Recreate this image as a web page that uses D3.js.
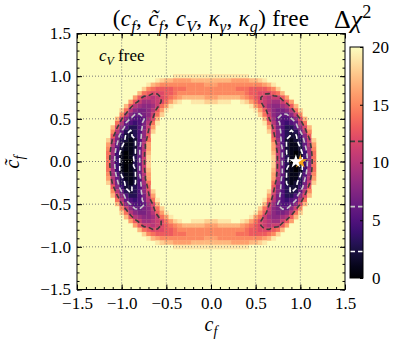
<!DOCTYPE html>
<html>
<head>
<meta charset="utf-8">
<script src="https://cdn.jsdelivr.net/npm/d3@7"></script>
<style>
  body { margin: 0; background: #fff; }
</style>
</head>
<body>
<div id="chart"></div>
<script>
// delta chi^2, one char per cell:
// "0".."9","a".."k" stand for 0..20, "." is above 20 (left empty)
const cfStart = -1.25;   // c_f of the first column
const ctStart = 1.05;    // c~_f of the first row
const cellStep = 0.05;

const chiRows = [
	"...................................................",
	"...............kkjjjjjjjjjjjjjjjjjkk...............",
	".............jihhgggghhhhhhhhhgggghhij.............",
	"...........jhgffffffffffgggffffffffffghj...........",
	"..........ifeddddeeefffffffffffeeeddddefi..........",
	"........khedcccddefffffffffffffffeddcccdehk........",
	".......kgdbbabcdefghhhhhggghhhhhgfedcbabbdgk.......",
	".......gdb99abcegijkkjjjiiijjjkkjigecba99bdg.......",
	"......hda9889begj.................jgeb9889adh......",
	".....iea8778adgj...................jgda8778aei.....",
	"....kfb86678bei.....................ieb87668bfk....",
	"....hc865569ch.......................hc965568ch....",
	"...kea65457aej.......................jea75456aek...",
	"...hc853357bg.........................gb753358ch...",
	"...fa632358ci.........................ic853236af...",
	"..kd8422358dk.........................kd8532248dk..",
	"..ib7321259e...........................e9521237bi..",
	"..ga631125ag...........................ga521136ag..",
	"..f9521126ag...........................ga6211259f..",
	"..e9410126bh...........................hb6210149e..",
	"..e8410136bi...........................ib6310148e..",
	"..e8410036bi...........................ib6300148e..",
	"..e8410136bi...........................ib6310148e..",
	"..e9410126bh...........................hb6210149e..",
	"..f9521126ag...........................ga6211259f..",
	"..ga631125ag...........................ga521136ag..",
	"..ib7321259e...........................e9521237bi..",
	"..kd8422358dk.........................kd8532248dk..",
	"...fa632358ci.........................ic853236af...",
	"...hc853357bg.........................gb753358ch...",
	"...kea65457aej.......................jea75456aek...",
	"....hc865569ch.......................hc965568ch....",
	"....kfb86678bei.....................ieb87668bfk....",
	".....iea8778adgj...................jgda8778aei.....",
	"......hda9889begj.................jgeb9889adh......",
	".......gdb99abcegijkkjjjiiijjjkkjigecba99bdg.......",
	".......kgdbbabcdefghhhhhggghhhhhgfedcbabbdgk.......",
	"........khedcccddefffffffffffffffeddcccdehk........",
	"..........ifeddddeeefffffffffffeeeddddefi..........",
	"...........jhgffffffffffgggffffffffffghj...........",
	".............jihhgggghhhhhhhhhgggghhij.............",
	"...............kkjjjjjjjjjjjjjjjjjkk...............",
	"..................................................."
];

const levels = [2.3, 6.18, 11.83];
const levelColors = ["#ffffff", "#c8c8c8", "#3c3c3c"];
const axisTicks = [-1.5, -1.0, -0.5, 0.0, 0.5, 1.0, 1.5];
const gridTicks = [-1.0, -0.5, 0.0, 0.5, 1.0];
const cbarTicks = [0, 5, 10, 15, 20];
const bestFit = [0.95, 0.0];
const smPoint = [1.0, 0.0];

const FONT = "'Liberation Serif', serif";
const symbols = "0123456789abcdefghijk";
const nx = chiRows[0].length;
const ny = chiRows.length;

const cells = [];
const field = [];
chiRows.forEach((row, j) => {
	[...row].forEach((c, i) => {
		const v = symbols.indexOf(c);
		if (v >= 0) cells.push({ cf: cfStart + i * cellStep, ct: ctStart - j * cellStep, v: v });
		// negated so that the contours close round the low regions
		field.push(v >= 0 ? -v : -25);
	});
});

const svg = d3.select("#chart")
	.append("svg")
	.attr("width", 400)
	.attr("height", 345)
	.attr("font-family", FONT);

const x = d3.scaleLinear().domain([-1.5, 1.5]).range([77, 345]);
const y = d3.scaleLinear().domain([-1.5, 1.5]).range([289.5, 33.5]);
const color = d3.scaleSequential(d3.interpolateMagma).domain([0, 20]).clamp(true);

svg.append("rect")
	.attr("x", x(-1.5))
	.attr("y", y(1.5))
	.attr("width", x(1.5) - x(-1.5))
	.attr("height", y(-1.5) - y(1.5))
	.attr("fill", color(20));

const cw = x(cellStep) - x(0);
const ch = y(0) - y(cellStep);

svg.append("g")
	.selectAll("rect")
	.data(cells)
	.join("rect")
	.attr("x", (d) => x(d.cf) - cw / 2)
	.attr("y", (d) => y(d.ct) - ch / 2)
	.attr("width", cw + 0.3)
	.attr("height", ch + 0.3)
	.attr("fill", (d) => color(d.v));

// dotted grid
const grid = svg.append("g")
	.attr("stroke", "#777")
	.attr("stroke-width", 1)
	.attr("stroke-dasharray", "1,2");
grid.selectAll(".gx")
	.data(gridTicks)
	.join("line")
	.attr("class", "gx")
	.attr("x1", (d) => x(d)).attr("x2", (d) => x(d))
	.attr("y1", y(1.5)).attr("y2", y(-1.5));
grid.selectAll(".gy")
	.data(gridTicks)
	.join("line")
	.attr("class", "gy")
	.attr("y1", (d) => y(d)).attr("y2", (d) => y(d))
	.attr("x1", x(-1.5)).attr("x2", x(1.5));

// contours
const proj = d3.geoTransform({
	point: function (u, v) {
		this.stream.point(x(cfStart + (u - 0.5) * cellStep), y(ctStart - (v - 0.5) * cellStep));
	}
});
const contourPath = d3.geoPath(proj);
const contours = d3.contours()
	.size([nx, ny])
	.thresholds(levels.map((l) => -l))(field);

svg.append("g")
	.selectAll("path")
	.data(contours)
	.join("path")
	.attr("d", contourPath)
	.attr("fill", "none")
	.attr("stroke", (d) => levelColors[levels.findIndex((l) => Math.abs(l + d.value) < 1e-6)])
	.attr("stroke-width", 1.6)
	.attr("stroke-dasharray", "5,3");

// markers
const star = d3.symbol().type(d3.symbolStar);
svg.append("path")
	.attr("d", star.size(60)())
	.attr("transform", `translate(${x(smPoint[0])},${y(smPoint[1])})`)
	.attr("fill", "#f5a31a");
svg.append("path")
	.attr("d", star.size(60)())
	.attr("transform", `translate(${x(bestFit[0])},${y(bestFit[1])})`)
	.attr("fill", "#fff");

// axes, ticks inward on all four sides
const fmt = d3.format(".1f");
function styleAxis(g) {
	g.select(".domain").remove();
	g.attr("font-size", 17).attr("font-family", FONT);
	g.selectAll("text").attr("font-family", FONT).attr("fill", "#000");
	g.selectAll("line").attr("stroke", "#000");
}
svg.append("g")
	.attr("transform", `translate(0,${y(-1.5)})`)
	.call(d3.axisBottom(x).tickValues(axisTicks).tickFormat(fmt).tickSize(-5).tickPadding(7))
	.call(styleAxis);
svg.append("g")
	.attr("transform", `translate(0,${y(-1.5)})`)
	.call(d3.axisBottom(x).ticks(30).tickFormat("").tickSize(-2.5))
	.call(styleAxis);
svg.append("g")
	.attr("transform", `translate(0,${y(1.5)})`)
	.call(d3.axisTop(x).tickValues(axisTicks).tickFormat("").tickSize(-5))
	.call(styleAxis);
svg.append("g")
	.attr("transform", `translate(0,${y(1.5)})`)
	.call(d3.axisTop(x).ticks(30).tickFormat("").tickSize(-2.5))
	.call(styleAxis);
svg.append("g")
	.attr("transform", `translate(${x(-1.5)},0)`)
	.call(d3.axisLeft(y).tickValues(axisTicks).tickFormat(fmt).tickSize(-5).tickPadding(6))
	.call(styleAxis);
svg.append("g")
	.attr("transform", `translate(${x(-1.5)},0)`)
	.call(d3.axisLeft(y).ticks(30).tickFormat("").tickSize(-2.5))
	.call(styleAxis);
svg.append("g")
	.attr("transform", `translate(${x(1.5)},0)`)
	.call(d3.axisRight(y).tickValues(axisTicks).tickFormat("").tickSize(-5))
	.call(styleAxis);
svg.append("g")
	.attr("transform", `translate(${x(1.5)},0)`)
	.call(d3.axisRight(y).ticks(30).tickFormat("").tickSize(-2.5))
	.call(styleAxis);

svg.append("rect")
	.attr("x", x(-1.5))
	.attr("y", y(1.5))
	.attr("width", x(1.5) - x(-1.5))
	.attr("height", y(-1.5) - y(1.5))
	.attr("fill", "none")
	.attr("stroke", "#000")
	.attr("stroke-width", 1);

// math-ish text helper
function mathText(t, parts, fs, spacing) {
	let shift = 0;
	t.attr("font-family", FONT).attr("fill", "#000").attr("letter-spacing", spacing || 0);
	parts.forEach((p) => {
		const target = p.sub ? fs * 0.25 : p.sup ? -fs * 0.38 : 0;
		t.append("tspan")
			.attr("dy", target - shift)
			.attr("font-family", FONT)
			.attr("font-style", p.it ? "italic" : "normal")
			.attr("font-size", p.sub || p.sup ? fs * 0.7 : fs)
			.text(p.t);
		shift = target;
	});
}

mathText(svg.append("text").attr("x", 211).attr("y", 26).attr("text-anchor", "middle"), [
	{ t: "(" }, { t: "c", it: 1 }, { t: "f", it: 1, sub: 1 }, { t: ", " },
	{ t: "c\u0303", it: 1 }, { t: "f", it: 1, sub: 1 }, { t: ", " },
	{ t: "c", it: 1 }, { t: "V", it: 1, sub: 1 }, { t: ", " },
	{ t: "\u03ba", it: 1 }, { t: "\u03b3", it: 1, sub: 1 }, { t: ", " },
	{ t: "\u03ba", it: 1 }, { t: "g", it: 1, sub: 1 }, { t: ") free" }
], 23, 0.3);

mathText(svg.append("text").attr("x", 99).attr("y", 61), [
	{ t: "c", it: 1 }, { t: "V", it: 1, sub: 1 }, { t: " free" }
], 17);

mathText(svg.append("text").attr("x", 211).attr("y", 331).attr("text-anchor", "middle"), [
	{ t: "c", it: 1 }, { t: "f", it: 1, sub: 1 }
], 20);

mathText(svg.append("text").attr("transform", "translate(19,162) rotate(-90)").attr("text-anchor", "middle"), [
	{ t: "c\u0303", it: 1 }, { t: "f", it: 1, sub: 1 }
], 20);

// colour bar
const cbX = 350, cbW = 13;
const cy = d3.scaleLinear().domain([0, 20]).range([278, 47]);
const grad = svg.append("defs").append("linearGradient")
	.attr("id", "cbgrad")
	.attr("x1", 0).attr("y1", 1).attr("x2", 0).attr("y2", 0);
grad.selectAll("stop")
	.data(d3.range(0, 1.0001, 0.05))
	.join("stop")
	.attr("offset", (d) => d)
	.attr("stop-color", (d) => d3.interpolateMagma(d));
svg.append("rect")
	.attr("x", cbX).attr("y", cy(20))
	.attr("width", cbW).attr("height", cy(0) - cy(20))
	.attr("fill", "url(#cbgrad)");
svg.append("g")
	.selectAll("line")
	.data(levels)
	.join("line")
	.attr("x1", cbX).attr("x2", cbX + cbW)
	.attr("y1", (d) => cy(d)).attr("y2", (d) => cy(d))
	.attr("stroke", (d, i) => levelColors[i])
	.attr("stroke-width", 1.6)
	.attr("stroke-dasharray", "5,3");
svg.append("g")
	.attr("transform", `translate(${cbX + cbW},0)`)
	.call(d3.axisRight(cy).tickValues(cbarTicks).tickSize(-3).tickPadding(9))
	.call(styleAxis);
svg.append("rect")
	.attr("x", cbX).attr("y", cy(20))
	.attr("width", cbW).attr("height", cy(0) - cy(20))
	.attr("fill", "none")
	.attr("stroke", "#000");

mathText(svg.append("text").attr("x", 334).attr("y", 28), [
	{ t: "\u0394" }, { t: "\u03c7", it: 1 }, { t: "2", sup: 1 }
], 26);

if (chiRows.some((r) => r.length !== nx)) {
	svg.append("text").attr("x", 5).attr("y", 340).attr("fill", "red").text("row length mismatch");
}
</script>
</body>
</html>
